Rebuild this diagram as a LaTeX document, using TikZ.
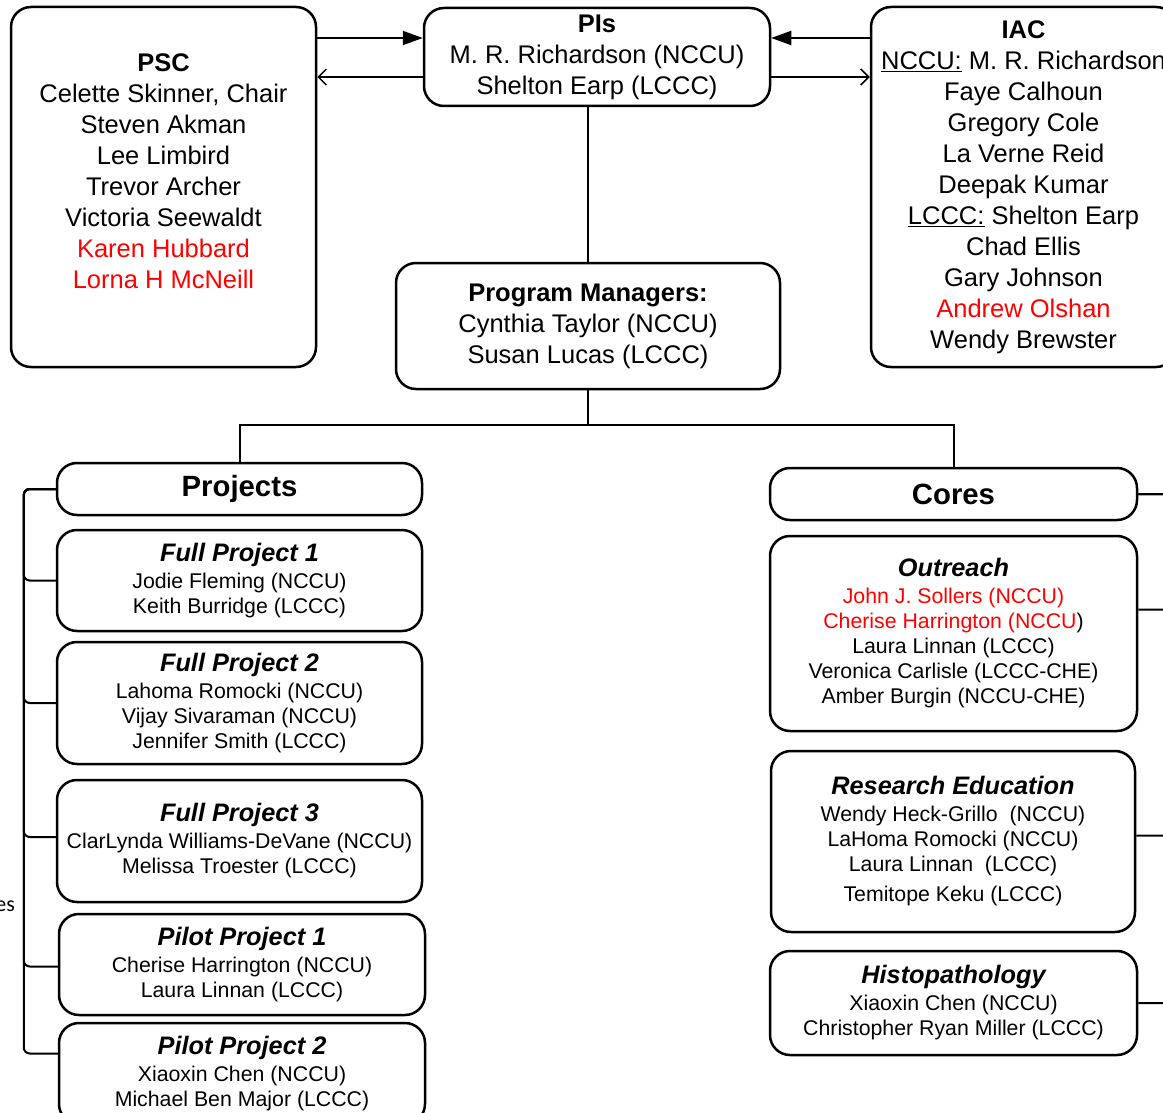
\documentclass[tikz,border=0pt]{standalone}
\usepackage{fontspec}
\setmainfont{Liberation Sans}
\newfontfamily\notefont{Carlito}
\usetikzlibrary{arrows.meta}
\newcommand\redname[1]{\textcolor{red}{#1}}
\newcommand\head[1]{{\fontsize{25.3}{28}\selectfont\bfseries\itshape #1}}

\begin{document}
\begin{tikzpicture}[x=1pt,y=-1pt,line width=2pt,
                    >={Triangle[length=20pt,width=14pt]}]

  \tikzstyle{box}=[rectangle,draw,rounded corners=20pt,line width=2.5pt,
                   align=center,inner sep=0pt]
  \tikzstyle{bigtext}=[font=\fontsize{25.5}{31}\selectfont]
  \tikzstyle{smalltext}=[font=\fontsize{21.3}{25}\selectfont]
  \tikzstyle{headtext}=[font=\fontsize{29.3}{32}\selectfont\bfseries]
  \tikzstyle{openarrow}=[-{Straight Barb[length=8pt,width=16pt,line width=1.5pt]}]
  \tikzstyle{elbow}=[rounded corners=6pt]

  \useasboundingbox (0,0) rectangle (1163,1113);

  \node[box,bigtext,minimum width=305pt,minimum height=360pt] (PSC) at (163.5,187)
    {\textbf{PSC}\\ Celette Skinner, Chair\\ Steven Akman\\ Lee Limbird\\
     Trevor Archer\\ Victoria Seewaldt\\ \redname{Karen Hubbard}\\
     \redname{Lorna H McNeill}\\ ~};
  \node[box,bigtext,minimum width=346pt,minimum height=98pt] (PIs) at (597,57)
    {\textbf{PIs}\\ M. R. Richardson (NCCU)\\ Shelton Earp (LCCC)};
  \node[box,bigtext,minimum width=305pt,minimum height=360pt] (IAC) at (1023.5,187)
    {\textbf{IAC}\\ \underline{NCCU:} M. R. Richardson\\ Faye Calhoun\\ Gregory Cole\\
     La Verne Reid\\ Deepak Kumar\\ \underline{LCCC:} Shelton Earp\\ Chad Ellis\\
     Gary Johnson\\ \redname{Andrew Olshan}\\ Wendy Brewster};
  \node[box,bigtext,minimum width=384pt,minimum height=126pt] (PM) at (588,326)
    {\textbf{Program Managers:}\\ Cynthia Taylor (NCCU)\\ Susan Lucas (LCCC)};

  % projects
  \node[box,headtext,minimum width=365pt,minimum height=52pt] (PRJ) at (239.5,489) {Projects};
  \node[box,smalltext,minimum width=365pt,minimum height=101pt] (FP1) at (239.5,580.5)
    {\head{Full Project 1}\\[2pt] Jodie Fleming (NCCU)\\ Keith Burridge (LCCC)};
  \node[box,smalltext,minimum width=365pt,minimum height=122pt] (FP2) at (239.5,703)
    {\head{Full Project 2}\\[2pt] Lahoma Romocki (NCCU)\\ Vijay Sivaraman (NCCU)\\ Jennifer Smith (LCCC)};
  \node[box,smalltext,minimum width=365pt,minimum height=122pt] (FP3) at (239.5,841)
    {\head{Full Project 3}\\[2pt] ClarLynda Williams-DeVane (NCCU)\\ Melissa Troester (LCCC)};
  \node[box,smalltext,minimum width=366pt,minimum height=101pt] (PP1) at (242,964.5)
    {\head{Pilot Project 1}\\[2pt] Cherise Harrington (NCCU)\\ Laura Linnan (LCCC)};
  \node[box,smalltext,minimum width=366pt,minimum height=101pt] (PP2) at (242,1073.5)
    {\head{Pilot Project 2}\\[2pt] Xiaoxin Chen (NCCU)\\ Michael Ben Major (LCCC)};

  % cores
  \node[box,headtext,minimum width=367pt,minimum height=52pt] (COR) at (953.5,494) {Cores};
  \node[box,smalltext,minimum width=367pt,minimum height=195pt] (OUT) at (953.5,633.5)
    {\head{Outreach}\\[2pt] \redname{John J. Sollers (NCCU)}\\ \redname{Cherise Harrington (NCCU}) \\
     Laura Linnan (LCCC)\\ Veronica Carlisle (LCCC-CHE)\\ Amber Burgin (NCCU-CHE)};
  \node[box,smalltext,minimum width=364pt,minimum height=181pt] (RED) at (953,841.5)
    {\head{Research Education}\\[2pt] Wendy Heck-Grillo\ \ (NCCU)\\ LaHoma Romocki (NCCU)\\
     Laura Linnan\ \ (LCCC)\\[5pt] Temitope Keku (LCCC)};
  \node[box,smalltext,minimum width=367pt,minimum height=104pt] (HIS) at (953.5,1003)
    {\head{Histopathology}\\[2pt] Xiaoxin Chen (NCCU)\\ Christopher Ryan Miller (LCCC)};

  \node[font=\notefont\fontsize{22}{26}\selectfont,anchor=east,inner sep=0pt] (note) at (16,906) {es};

  \coordinate (pl1) at ([yshift=19pt]PIs.west);
  \coordinate (pl2) at ([yshift=-20pt]PIs.west);
  \coordinate (pr1) at ([yshift=19pt]PIs.east);
  \coordinate (pr2) at ([yshift=-20pt]PIs.east);

  \draw[->] (PSC.east |- pl1) -- (pl1);
  \draw[openarrow] (pl2) -- (PSC.east |- pl2);
  \draw[->] (IAC.west |- pr1) -- (pr1);
  \draw[openarrow] (pr2) -- (IAC.west |- pr2);

  \draw (PM.north) -- (PM.north |- PIs.south);
  \draw (PM.south) -- ++(0,35) -| (PRJ.north);
  \draw (PM.south) -- ++(0,35) -| (COR.north);

  \foreach \b/\s in {FP1/0pt,FP2/0pt,FP3/4pt,PP1/-2pt,PP2/20pt}
    \draw[elbow] (PRJ.west) -- ++(-32,0) |- ([yshift=\s]\b.west);

  \foreach \b/\s in {OUT/24pt,RED/6pt,HIS/0pt}
    \draw[elbow] (COR.east) -- ++(31,0) |- ([yshift=\s]\b.east);
\end{tikzpicture}
\end{document}
